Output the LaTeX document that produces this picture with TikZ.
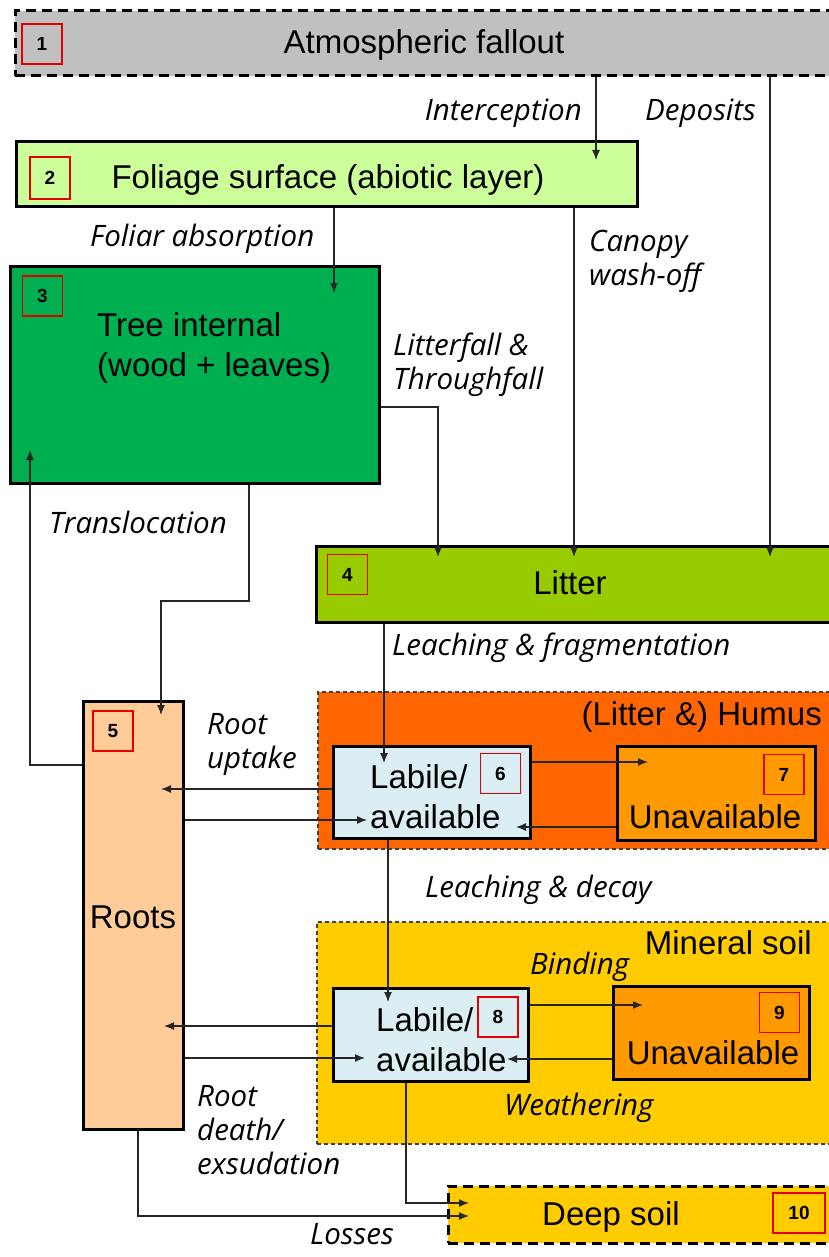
\documentclass[tikz,border=0pt]{standalone}
\usepackage{fontspec}
\setmainfont{Liberation Sans}
\newfontfamily\handfont{Open Sans}
\usetikzlibrary{arrows.meta}

\definecolor{fallout}{HTML}{C0C0C0}
\definecolor{foliage}{HTML}{CCFF99}
\definecolor{treegreen}{HTML}{00B050}
\definecolor{littergreen}{HTML}{99CC00}
\definecolor{rootorange}{HTML}{FFCC99}
\definecolor{humusorange}{HTML}{FF6600}
\definecolor{labileblue}{HTML}{DAEEF3}
\definecolor{unavailorange}{HTML}{FF9900}
\definecolor{mineralyellow}{HTML}{FFCC00}

\begin{document}
\begin{tikzpicture}[x=1pt, y=-1pt,
    compartment/.style={draw=black, line width=3pt, inner sep=0pt},
    boundary/.style={draw=black, line width=3pt, dash pattern=on 10pt off 6pt, inner sep=0pt},
    zone/.style={draw=black!75, line width=1.3pt, dash pattern=on 4pt off 3pt, inner sep=0pt},
    tag/.style={draw=red!90!black, line width=1.5pt, minimum width=40pt, minimum height=40pt,
      inner sep=0pt, font=\bfseries\fontsize{19}{19}\selectfont},
    boxtext/.style={font=\fontsize{33}{40}\selectfont, inner sep=0pt},
    flowlabel/.style={font=\handfont\itshape\fontsize{29.5}{34}\selectfont, inner sep=0pt, align=left},
    flow/.style={->, line width=1.3pt, black!85},
    >={Latex[length=10pt,width=8pt]}]

  \useasboundingbox (0,0) rectangle (829,1257);
  \clip (0,0) rectangle (829,1257);

  % ===== Soil zones (drawn first, behind everything) =====
  \node[zone, fill=humusorange, minimum width=517pt, minimum height=157pt] (humus) at (576.5,770.5) {};
  \node[zone, fill=mineralyellow, minimum width=518pt, minimum height=222pt] (mineral) at (576,1033) {};
  \node[boxtext, anchor=east] (humusText) at (822,717) {(Litter \&) Humus};
  \node[boxtext, anchor=east] (mineralText) at (812,943) {Mineral soil};

  % ===== Compartments =====
  \node[boundary, fill=fallout, minimum width=818pt, minimum height=65pt] (atmo) at (424,43.5) {};
  \node[compartment, fill=foliage, minimum width=621pt, minimum height=65pt] (foliage) at (326.5,174.5) {};
  \node[compartment, fill=treegreen, minimum width=369pt, minimum height=217pt] (tree) at (194.5,374.5) {};
  \node[compartment, fill=littergreen, minimum width=520pt, minimum height=76pt] (litter) at (576,584) {};
  \node[compartment, fill=rootorange, minimum width=100pt, minimum height=428pt] (roots) at (133,915) {};
  \node[compartment, fill=labileblue, minimum width=197pt, minimum height=92pt] (labile6) at (431.5,792) {};
  \node[compartment, fill=unavailorange, minimum width=198pt, minimum height=94pt] (unavail7) at (716,793) {};
  \node[compartment, fill=labileblue, minimum width=195pt, minimum height=93pt] (labile8) at (430.5,1034.5) {};
  \node[compartment, fill=unavailorange, minimum width=196pt, minimum height=93pt] (unavail9) at (711,1032.5) {};
  \node[boundary, fill=mineralyellow, minimum width=392pt, minimum height=57pt] (deep) at (644,1214.5) {};

  % Compartment texts
  \node[boxtext] (atmoText) at (424,45) {Atmospheric fallout};
  \node[boxtext] (foliageText) at (328,180) {Foliage surface (abiotic layer)};
  \node[boxtext, anchor=west, align=left] (treeText) at (97,348) {Tree internal\\(wood + leaves)};
  \node[boxtext] (litterText) at (570,583) {Litter};
  \node[boxtext] (rootsText) at (133,917) {Roots};
  \node[boxtext, anchor=west, align=left] (labile6Text) at (370,797) {Labile/\\available};
  \node[boxtext] (unavail7Text) at (715,817) {Unavailable};
  \node[boxtext, anchor=west, align=left] (labile8Text) at (376,1040) {Labile/\\available};
  \node[boxtext] (unavail9Text) at (713,1053) {Unavailable};
  \node[boxtext] (deepText) at (611,1217) {Deep soil};

  % Compartment numbers
  \node[tag] (tag1) at (42,44) {1};
  \node[tag, minimum height=42pt] (tag2) at (50,178) {2};
  \node[tag] (tag3) at (42.5,296) {3};
  \node[tag] (tag4) at (347.5,574.5) {4};
  \node[tag] (tag5) at (113,731) {5};
  \node[tag] (tag6) at (500.5,773.5) {6};
  \node[tag] (tag7) at (784,774.5) {7};
  \node[tag] (tag8) at (498,1017) {8};
  \node[tag] (tag9) at (779.5,1012.5) {9};
  \node[tag, minimum width=52pt] (tag10) at (799,1213) {10};

  % ===== Fluxes =====
  % from the atmosphere
  \coordinate (interTip) at (596,160);
  \draw[flow] (atmo.south -| interTip) -- (interTip);
  \coordinate (depTip) at (770,557);
  \draw[flow] (atmo.south -| depTip) -- (depTip);

  % from the canopy
  \coordinate (foliarTip) at (334,293);
  \draw[flow] (foliage.south -| foliarTip) -- (foliarTip);
  \coordinate (washTip) at (574,557);
  \draw[flow] (foliage.south -| washTip) -- (washTip);
  \coordinate (fallBend) at (438,407);
  \coordinate (fallTip) at (438,557);
  \draw[flow] (tree.east |- fallBend) -- (fallBend) -- (fallTip);

  % tree <-> roots
  \coordinate (downBend) at (249,601);
  \coordinate (downTip) at (161,715);
  \draw[flow] (tree.south -| downBend) -- (downBend) -| (downTip);
  \coordinate (upBend) at (30,765);
  \coordinate (upTip) at (30,450);
  \draw[flow] (roots.west |- upBend) -- (upBend) -- (upTip);

  % litter and humus
  \coordinate (fragTip) at (384,763);
  \draw[flow] (litter.south -| fragTip) -- (fragTip);
  \coordinate (uptake6Tip) at (161,789);
  \draw[flow] (labile6.west |- uptake6Tip) -- (uptake6Tip);
  \coordinate (return6Tip) at (367,820);
  \draw[flow] (roots.east |- return6Tip) -- (return6Tip);
  \coordinate (bind6Tip) at (648,762);
  \draw[flow] (labile6.east |- bind6Tip) -- (bind6Tip);
  \coordinate (release6Tip) at (516,827);
  \draw[flow] (unavail7.west |- release6Tip) -- (release6Tip);

  % mineral soil
  \coordinate (decayTip) at (388,1002);
  \draw[flow] (labile6.south -| decayTip) -- (decayTip);
  \coordinate (uptake8Tip) at (164,1026);
  \draw[flow] (labile8.west |- uptake8Tip) -- (uptake8Tip);
  \coordinate (return8Tip) at (365,1058);
  \draw[flow] (roots.east |- return8Tip) -- (return8Tip);
  \coordinate (bind8Tip) at (643,1005);
  \draw[flow] (labile8.east |- bind8Tip) -- (bind8Tip);
  \coordinate (weatherTip) at (507,1059);
  \draw[flow] (unavail9.west |- weatherTip) -- (weatherTip);

  % losses to deep soil
  \coordinate (leachBend) at (406,1203);
  \coordinate (leachTip) at (469,1203);
  \draw[flow] (labile8.south -| leachBend) -- (leachBend) -- (leachTip);
  \coordinate (lossBend) at (138,1216);
  \coordinate (lossTip) at (469,1216);
  \draw[flow] (roots.south -| lossBend) -- (lossBend) -- (lossTip);

  % ===== Flux labels =====
  \node[flowlabel, anchor=east] (interLabel) at (582,113) {Interception};
  \node[flowlabel, anchor=west] (depLabel) at (645,113) {Deposits};
  \node[flowlabel, anchor=west] (foliarLabel) at (90,239) {Foliar absorption};
  \node[flowlabel, anchor=west] (washLabel) at (589,261) {Canopy\\wash-off};
  \node[flowlabel, anchor=west] (fallLabel) at (393,365) {Litterfall \&\\Throughfall};
  \node[flowlabel, anchor=west] (transLabel) at (49,522) {Translocation};
  \node[flowlabel, anchor=west] (fragLabel) at (392,648) {Leaching \& fragmentation};
  \node[flowlabel, anchor=west] (uptakeLabel) at (207,744) {Root\\uptake};
  \node[flowlabel, anchor=west] (decayLabel) at (425,890) {Leaching \& decay};
  \node[flowlabel, anchor=west] (bindLabel) at (530,967) {Binding};
  \node[flowlabel, anchor=west] (weatherLabel) at (504,1108) {Weathering};
  \node[flowlabel, anchor=west] (deathLabel) at (197,1130) {Root\\death/\\exsudation};
  \node[flowlabel, anchor=base west] (lossLabel) at (310,1244) {Losses};

\end{tikzpicture}
\end{document}
